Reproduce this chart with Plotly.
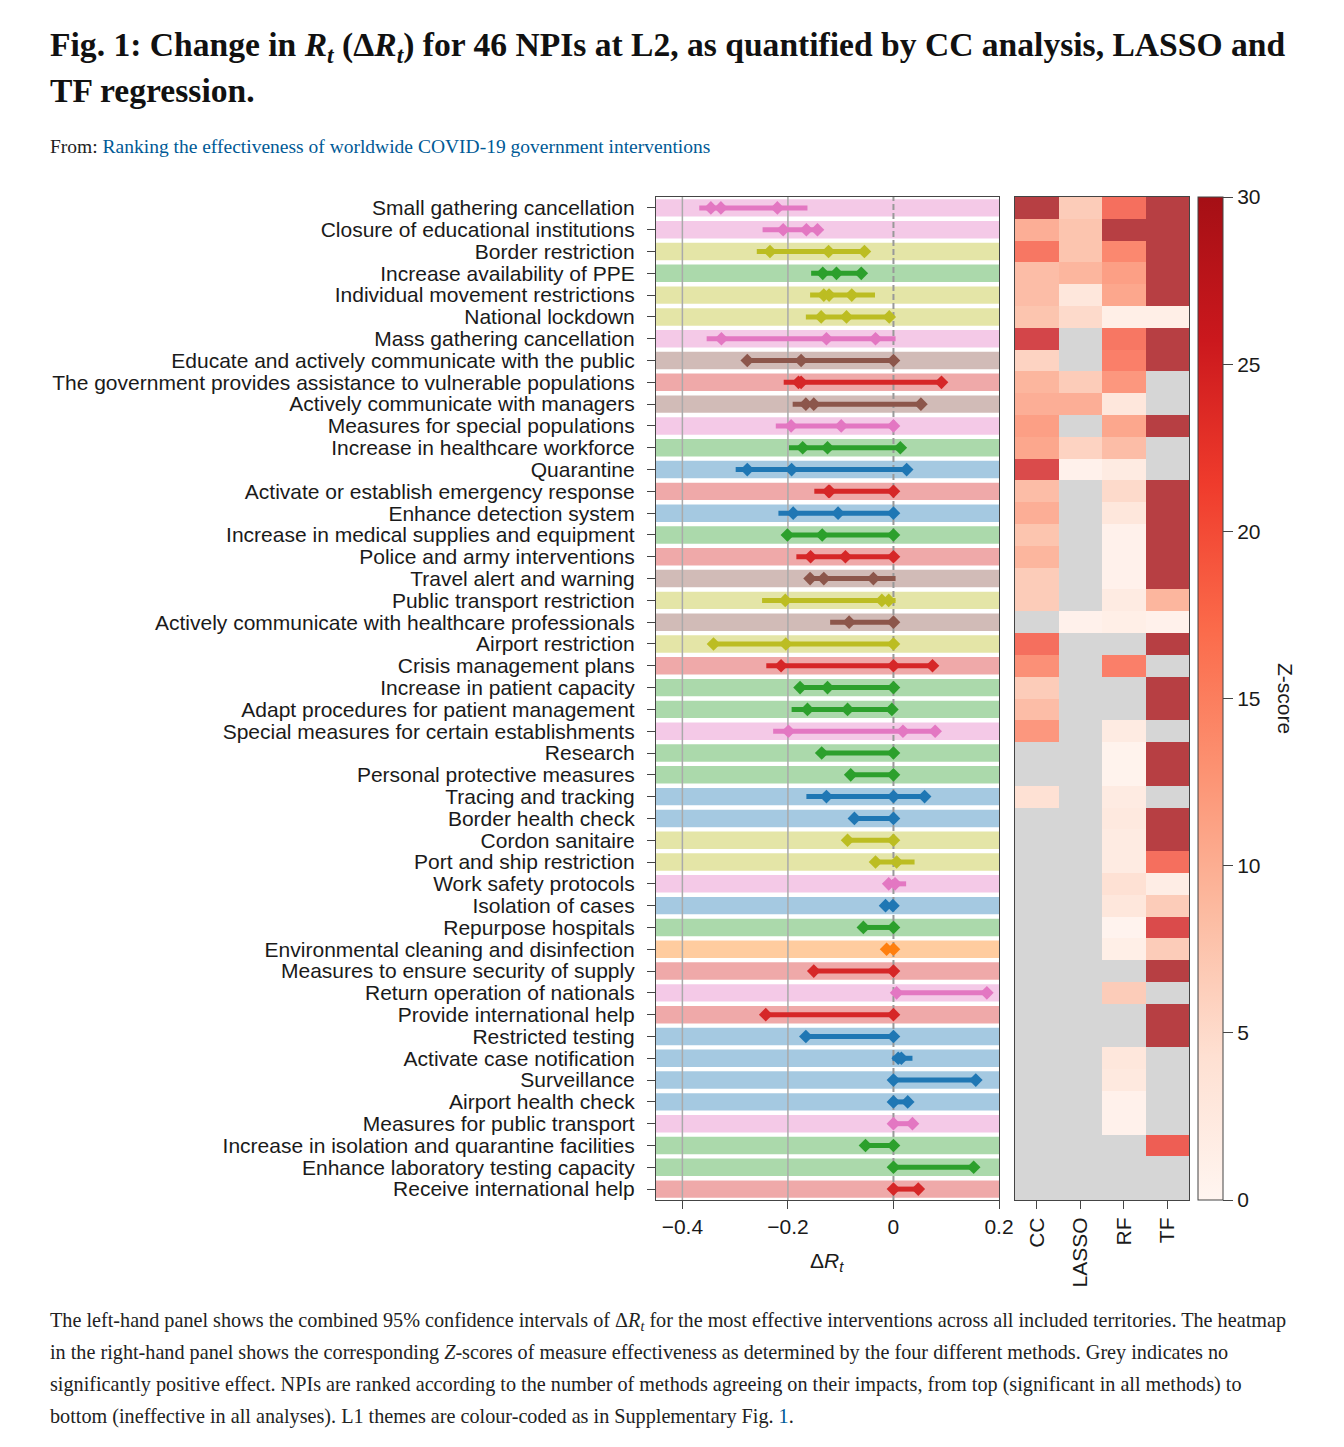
import plotly.graph_objects as go

W, H = 1328, 1431   # page is 1344x1447 with an 8px body margin
OFF = 8


def fx(p):
    return (p - OFF) / W


def fy(p):
    return 1 - (p - OFF) / H


# ---------------- data ----------------
npis = [
    "Small gathering cancellation",
    "Closure of educational institutions",
    "Border restriction",
    "Increase availability of PPE",
    "Individual movement restrictions",
    "National lockdown",
    "Mass gathering cancellation",
    "Educate and actively communicate with the public",
    "The government provides assistance to vulnerable populations",
    "Actively communicate with managers",
    "Measures for special populations",
    "Increase in healthcare workforce",
    "Quarantine",
    "Activate or establish emergency response",
    "Enhance detection system",
    "Increase in medical supplies and equipment",
    "Police and army interventions",
    "Travel alert and warning",
    "Public transport restriction",
    "Actively communicate with healthcare professionals",
    "Airport restriction",
    "Crisis management plans",
    "Increase in patient capacity",
    "Adapt procedures for patient management",
    "Special measures for certain establishments",
    "Research",
    "Personal protective measures",
    "Tracing and tracking",
    "Border health check",
    "Cordon sanitaire",
    "Port and ship restriction",
    "Work safety protocols",
    "Isolation of cases",
    "Repurpose hospitals",
    "Environmental cleaning and disinfection",
    "Measures to ensure security of supply",
    "Return operation of nationals",
    "Provide international help",
    "Restricted testing",
    "Activate case notification",
    "Surveillance",
    "Airport health check",
    "Measures for public transport",
    "Increase in isolation and quarantine facilities",
    "Enhance laboratory testing capacity",
    "Receive international help",
]

theme = [
    "pink", "pink", "olive", "green", "olive", "olive", "pink", "brown", "red", "brown",
    "pink", "green", "blue", "red", "blue", "green", "red", "brown", "olive", "brown",
    "olive", "red", "green", "green", "pink", "green", "green", "blue", "blue", "olive",
    "olive", "pink", "blue", "green", "orange", "red", "pink", "red", "blue", "blue",
    "blue", "blue", "pink", "green", "green", "red",
]

ci_low = [
    -0.368, -0.248, -0.259, -0.156, -0.158, -0.166, -0.354, -0.277, -0.208, -0.191,
    -0.223, -0.198, -0.299, -0.150, -0.218, -0.203, -0.184, -0.165, -0.249, -0.120,
    -0.341, -0.241, -0.177, -0.193, -0.228, -0.136, -0.081, -0.165, -0.074, -0.087,
    -0.034, -0.009, -0.015, -0.057, -0.013, -0.151, 0.006, -0.242, -0.166, -0.002,
    0.000, 0.000, 0.000, -0.053, 0.000, 0.000,
]

ci_high = [
    -0.163, -0.144, -0.055, -0.061, -0.035, -0.008, 0.004, 0.000, 0.091, 0.052,
    0.000, 0.013, 0.025, 0.000, 0.000, 0.000, 0.000, 0.004, 0.004, 0.000,
    0.000, 0.074, 0.000, -0.003, 0.079, 0.000, 0.000, 0.059, 0.000, 0.000,
    0.040, 0.024, -0.001, 0.000, 0.000, 0.000, 0.177, 0.000, 0.000, 0.036,
    0.156, 0.027, 0.036, 0.000, 0.152, 0.047,
]

estimates = [
    [-0.346, -0.327, -0.220], [-0.209, -0.165, -0.144], [-0.234, -0.123, -0.055],
    [-0.134, -0.108, -0.061], [-0.132, -0.122, -0.079], [-0.137, -0.089, -0.008],
    [-0.326, -0.127, -0.034], [-0.277, -0.175, 0.000], [-0.180, -0.175, 0.091],
    [-0.166, -0.151, 0.052], [-0.194, -0.099, 0.000], [-0.172, -0.125, 0.013],
    [-0.277, -0.193, 0.025], [-0.123, -0.121, 0.000], [-0.190, -0.105, 0.000],
    [-0.201, -0.135, 0.000], [-0.157, -0.091, 0.000], [-0.158, -0.132, -0.038],
    [-0.205, -0.022, -0.009], [-0.084, 0.000], [-0.341, -0.204, 0.000],
    [-0.213, 0.000, 0.074], [-0.177, -0.125, 0.000], [-0.163, -0.087, -0.003],
    [-0.199, 0.018, 0.079], [-0.136, 0.000], [-0.081, 0.000],
    [-0.127, 0.000, 0.059], [-0.074, 0.000], [-0.087, 0.000],
    [-0.034, 0.006], [-0.009, 0.003], [-0.015, -0.001],
    [-0.057, 0.000], [-0.013, 0.000], [-0.151, 0.000],
    [0.006, 0.177], [-0.242, 0.000], [-0.166, 0.000],
    [0.009, 0.015], [0.000, 0.156], [0.000, 0.027],
    [0.000, 0.036], [-0.053, 0.000], [0.000, 0.152], [0.000, 0.047],
]

methods = ["CC", "LASSO", "RF", "TF"]
N = None
z_cc = [30, 12, 19, 10, 10, 9, 26, 7, 11, 12, 14, 13, 25, 10, 12, 9, 11, 8, 8, N,
        20, 16, 8, 10, 15, N, N, 5, N, N, N, N, N, N, N, N, N, N, N, N,
        N, N, N, N, N, N]
z_lasso = [8, 9, 9, 11, 4, 6, N, N, 8, 12, N, 7, 1.5, N, N, N, N, N, N, 1.5,
           N, N, N, N, N, N, N, N, N, N, N, N, N, N, N, N, N, N, N, N,
           N, N, N, N, N, N]
z_rf = [20, 30, 17, 14, 13, 2, 19, 18, 15, 4, 13, 10, 3, 6, 4, 1.5, 1.5, 1.5, 3, 2,
        N, 18, N, N, 3, 1, 1, 3, 3.5, 3, 3, 5, 4, 0.8, 2, N, 8, N, N, 4,
        3.5, 1.5, 1.5, N, N, N]
z_tf = [30, 30, 30, 30, 30, 2, 30, 30, N, N, 30, N, N, 30, 30, 30, 30, 30, 11, 1.5,
        30, N, 30, 30, N, 30, 30, N, 30, 30, 20, 2.5, 8, 25, 8, 30, N, 30, 30, N,
        N, N, N, 22, N, N]

x_ticks = [-0.4, -0.2, 0, 0.2]
x_ticktext = ["\u22120.4", "\u22120.2", "0", "0.2"]
z_ticks = [0, 5, 10, 15, 20, 25, 30]

# ---------------- styles ----------------
palette = {
    "pink": (227, 119, 194),
    "olive": (188, 189, 34),
    "green": (44, 160, 44),
    "brown": (140, 86, 75),
    "red": (214, 39, 40),
    "blue": (31, 119, 180),
    "orange": (255, 127, 14),
}
reds = [
    [0.0, "#fff5f0"], [0.143, "#fee0d2"], [0.286, "#fcbba1"], [0.429, "#fc9272"],
    [0.571, "#fb6a4a"], [0.714, "#ef3b2c"], [0.857, "#cb181d"], [1.0, "#a50f15"],
]
SANS = "Liberation Sans, Arial, sans-serif"
SERIF = "Liberation Serif, Times New Roman, serif"
TXT = "#1a1a1a"
FRAME = "#444444"
FS = 21

fig = go.Figure()

# background bands (one per NPI row, coloured by theme)
for i, name in enumerate(npis):
    r, g, b = palette[theme[i]]
    fig.add_shape(type="rect", xref="x domain", yref="y", x0=0, x1=1,
                  y0=i - 0.4, y1=i + 0.4, layer="below",
                  line=dict(width=0), fillcolor=f"rgba({r},{g},{b},0.4)")

# reference lines (drawn after the bands)
for v in x_ticks[:2]:
    fig.add_shape(type="line", xref="x", yref="y domain", x0=v, x1=v, y0=0, y1=1,
                  layer="below", line=dict(color="#aaaaaa", width=1.5))
fig.add_shape(type="line", xref="x", yref="y domain", x0=0, x1=0, y0=0, y1=1,
              layer="below", line=dict(color="#999999", width=2, dash="6px,3px"))

# CI lines and diamonds
for i, name in enumerate(npis):
    r, g, b = palette[theme[i]]
    col = f"rgb({r},{g},{b})"
    fig.add_trace(go.Scatter(x=[ci_low[i], ci_high[i]], y=[name, name], mode="lines",
                             line=dict(color=col, width=5), showlegend=False,
                             hoverinfo="skip", xaxis="x", yaxis="y"))
    fig.add_trace(go.Scatter(x=estimates[i], y=[name] * len(estimates[i]), mode="markers",
                             marker=dict(symbol="diamond", size=10.5, color=col,
                                         line=dict(width=0)),
                             showlegend=False, xaxis="x", yaxis="y"))

# heatmap: grey for non-significant, Reds for Z-scores
zmat = [[z_cc[i], z_lasso[i], z_rf[i], z_tf[i]] for i in range(len(npis))]
grey = [[1 if v is None else None for v in row] for row in zmat]
fig.add_trace(go.Heatmap(z=grey, x=methods, y=npis, xaxis="x2", yaxis="y2",
                         colorscale=[[0, "#d6d6d6"], [1, "#d6d6d6"]], zmin=0, zmax=1,
                         showscale=False, hoverinfo="skip"))
fig.add_trace(go.Heatmap(
    z=zmat, x=methods, y=npis, xaxis="x2", yaxis="y2",
    colorscale=reds, zmin=0, zmax=30, opacity=0.8,
    colorbar=dict(
        x=fx(1198), xanchor="left", y=fy(197), yanchor="top",
        len=(1200 - 197) / H, lenmode="fraction", thickness=25,
        xpad=0, ypad=0,
        outlinecolor=FRAME, outlinewidth=1,
        tickvals=z_ticks, ticks="outside", ticklen=10, tickcolor=FRAME,
        tickfont=dict(family=SANS, size=FS, color=TXT),
    ),
))

cats_range = [len(npis) - 0.5, -0.5]
axis_common = dict(showgrid=False, zeroline=False, showline=True, mirror=True,
                   linecolor=FRAME, linewidth=1.2, tickcolor=FRAME, automargin=False,
                   tickfont=dict(family=SANS, size=FS, color=TXT))
fig.update_layout(
    width=W, height=H,
    margin=dict(l=0, r=0, t=0, b=0, pad=0, autoexpand=False),
    paper_bgcolor="white", plot_bgcolor="white",
    showlegend=False,
    xaxis=dict(domain=[fx(656), fx(999)], range=[-0.45, 0.2], tickmode="array",
               tickvals=x_ticks, ticktext=x_ticktext, ticks="outside", ticklen=8,
               anchor="y", **axis_common),
    yaxis=dict(domain=[fy(1200), fy(197)], type="category", categoryorder="array",
               categoryarray=npis, range=cats_range, tickmode="array",
               tickvals=npis, ticktext=npis, ticks="outside", ticklen=8,
               ticklabelstandoff=8, anchor="x", **axis_common),
    xaxis2=dict(domain=[fx(1015), fx(1189)], type="category", range=[-0.5, 3.5],
                tickmode="array", tickvals=methods, ticktext=methods,
                tickangle=-90, ticks="outside", ticklen=8, anchor="y2", **axis_common),
    yaxis2=dict(domain=[fy(1200), fy(197)], type="category", categoryorder="array",
                categoryarray=npis, range=cats_range, showticklabels=False, ticks="",
                anchor="x2", **axis_common),
)

# texts
ann = []
ann.append(dict(text="<b>Fig. 1: Change in <i>R</i><sub><i>t</i></sub> (Δ<i>R</i><sub><i>t</i></sub>) "
                     "for 46 NPIs at L2, as quantified by CC analysis, LASSO and</b>",
                x=fx(48), y=fy(47), font=dict(family=SERIF, size=33.6, color="#111111")))
ann.append(dict(text="<b>TF regression.</b>", x=fx(48), y=fy(91),
                font=dict(family=SERIF, size=33.6, color="#111111")))
ann.append(dict(text="From: <span style='color:#005a96'>Ranking the effectiveness of worldwide "
                     "COVID-19 government interventions</span>",
                x=fx(48), y=fy(146), font=dict(family=SERIF, size=19.5, color="#222222")))
ann.append(dict(text="Δ<i>R</i><sub><i>t</i></sub>", x=fx(827), y=fy(1262), xanchor="center",
                font=dict(family=SANS, size=FS, color=TXT)))
ann.append(dict(text="Z-score", x=fx(1286), y=fy(698), xanchor="center", textangle=90,
                font=dict(family=SANS, size=FS, color=TXT)))
caption = [
    "The left-hand panel shows the combined 95% confidence intervals of Δ<i>R</i><sub><i>t</i></sub> "
    "for the most effective interventions across all included territories. The heatmap",
    "in the right-hand panel shows the corresponding <i>Z</i>-scores of measure effectiveness "
    "as determined by the four different methods. Grey indicates no",
    "significantly positive effect. NPIs are ranked according to the number of methods agreeing "
    "on their impacts, from top (significant in all methods) to",
    "bottom (ineffective in all analyses). L1 themes are colour-coded as in Supplementary Fig. "
    "<span style='color:#005a96'>1</span>.",
]
for k, line in enumerate(caption):
    ann.append(dict(text=line, x=fx(48), y=fy(1321 + 31.7 * k),
                    font=dict(family=SERIF, size=20.2, color="#222222")))
for a in ann:
    a.setdefault("xanchor", "left")
    a["yanchor"] = "middle"
    a["xref"] = "paper"
    a["yref"] = "paper"
    a["showarrow"] = False
fig.update_layout(annotations=ann)

fig.write_html("out.html")
